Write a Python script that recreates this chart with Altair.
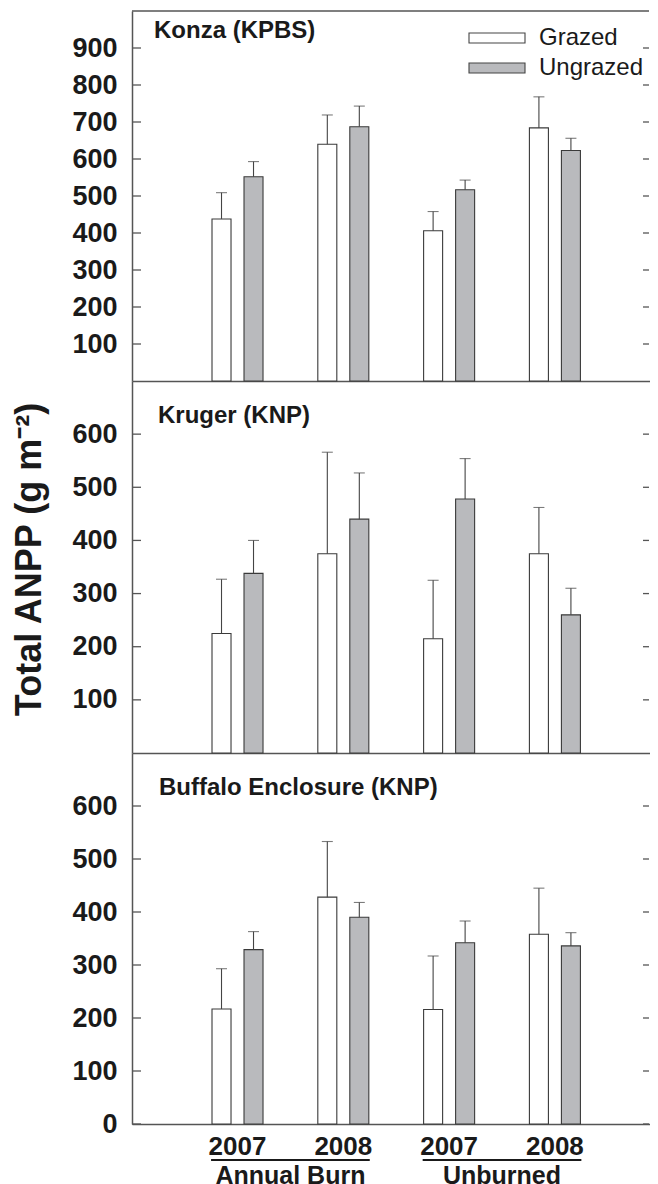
import altair as alt
import pandas as pd

FONT = "Liberation Sans"
INK = "#1a1a1a"
AXC = "#555555"

# ---------------- data ----------------
sites = ["Konza (KPBS)", "Kruger (KNP)", "Buffalo Enclosure (KNP)"]
conditions = ["Annual Burn 2007", "Annual Burn 2008", "Unburned 2007", "Unburned 2008"]
groups = ["Grazed", "Ungrazed"]
treatments = ["Annual Burn", "Unburned"]
treat_first = ["Annual Burn 2007", "Unburned 2007"]
treat_last = ["Annual Burn 2008", "Unburned 2008"]

konza_grazed = [438, 640, 406, 684]
konza_grazed_se = [71, 79, 52, 84]
konza_ungrazed = [552, 687, 517, 623]
konza_ungrazed_se = [41, 56, 26, 33]

kruger_grazed = [225, 375, 215, 375]
kruger_grazed_se = [102, 191, 110, 87]
kruger_ungrazed = [338, 440, 478, 260]
kruger_ungrazed_se = [62, 87, 76, 50]

buffalo_grazed = [217, 428, 216, 358]
buffalo_grazed_se = [76, 105, 101, 87]
buffalo_ungrazed = [329, 390, 342, 336]
buffalo_ungrazed_se = [34, 28, 41, 25]

konza_ticks = [100, 200, 300, 400, 500, 600, 700, 800, 900]
kruger_ticks = [100, 200, 300, 400, 500, 600]
buffalo_ticks = [0, 100, 200, 300, 400, 500, 600]
y_max = [1000, 700, 700]
y_title = "Total ANPP (g m⁻²)"

# ---------------- layout / style ----------------
W = 518
heights = [370, 372, 371]
label_pos = [(22, 27), (26, 42), (27, 42)]
legend_top = 22

x_scale = alt.Scale(domain=conditions, paddingInner=0, paddingOuter=0.448, align=0.555)
xo_scale = alt.Scale(domain=groups, paddingInner=0.406, paddingOuter=0.856)
fill_scale = alt.Scale(domain=groups, range=["#ffffff", "#b9babd"])


def make_df(g, gse, u, use):
    rows = []
    for i, c in enumerate(conditions):
        rows.append({"Cond": c, "Group": "Grazed", "Value": g[i], "Upper": g[i] + gse[i]})
        rows.append({"Cond": c, "Group": "Ungrazed", "Value": u[i], "Upper": u[i] + use[i]})
    return pd.DataFrame(rows)


frames = [
    make_df(konza_grazed, konza_grazed_se, konza_ungrazed, konza_ungrazed_se),
    make_df(kruger_grazed, kruger_grazed_se, kruger_ungrazed, kruger_ungrazed_se),
    make_df(buffalo_grazed, buffalo_grazed_se, buffalo_ungrazed, buffalo_ungrazed_se),
]
tick_sets = [konza_ticks, kruger_ticks, buffalo_ticks]


def panel(i):
    df = frames[i]
    H = heights[i]
    yscale = alt.Scale(domain=[0, y_max[i]], nice=False, zero=True)
    bottom = i == 2
    if bottom:
        xaxis = alt.Axis(title=None, labelExpr="slice(datum.value, -4)", labelAngle=0,
                         labelFontSize=26, labelFontWeight="bold", labelPadding=9,
                         ticks=False, tickSize=0, labelColor=INK)
    else:
        xaxis = alt.Axis(title=None, labels=False, ticks=False, tickSize=0)
    yaxis_kw = dict(values=tick_sets[i], ticks=False, tickSize=0, labelPadding=15,
                    labelFontSize=27, labelFontWeight="bold", grid=False,
                    labelFlush=False, labelOverlap=False, labelColor=INK)
    ttl = y_title if i == 1 else None
    if i == 1:
        yaxis = alt.Axis(title=y_title, titleFontSize=36, titleFontWeight="bold",
                         titleX=-84, titleY=178, titleAngle=270, titleAlign="center",
                         titleBaseline="bottom", titleColor=INK, **yaxis_kw)
    else:
        yaxis = alt.Axis(title=None, **yaxis_kw)

    def Y(field):
        return alt.Y(field, scale=yscale, axis=yaxis, title=ttl)

    def Xf(field, **kw):
        return alt.X(field, scale=x_scale, axis=xaxis, title=None, **kw)

    X = Xf("Cond:N")
    XO = alt.XOffset("Group:N", scale=xo_scale)
    F = alt.Fill("Group:N", scale=fill_scale, legend=None)

    base = alt.Chart(df)
    bars = base.mark_bar(stroke="#3a3a3a", strokeWidth=1.1).encode(
        x=X, xOffset=XO, y=Y("Value:Q"), fill=F)
    err = base.mark_rule(color="#444444", strokeWidth=1.1).encode(
        x=X, xOffset=XO, y=Y("Value:Q"), y2="Upper:Q")
    cap = base.mark_tick(color="#444444", size=11, thickness=1.1, orient="horizontal").encode(
        x=X, xOffset=XO, y=Y("Upper:Q"))

    tdf = pd.DataFrame({"tick": tick_sets[i]})
    lticks = alt.Chart(tdf).mark_rule(color=AXC, strokeWidth=1.3).encode(
        y=Y("tick:Q"), x=alt.value(0), x2=alt.value(9))
    rticks = alt.Chart(tdf).mark_rule(color=AXC, strokeWidth=1.3).encode(
        y=Y("tick:Q"), x=alt.value(W - 7), x2=alt.value(W - 1))

    lx, ly = label_pos[i]
    site_lbl = alt.Chart(pd.DataFrame({"Site": [sites[i]]})).mark_text(
        align="left", baseline="alphabetic", fontSize=24, fontWeight="bold",
        font=FONT, color=INK).encode(text="Site:N", x=alt.value(lx), y=alt.value(ly))

    layers = [bars, err, cap, lticks, rticks, site_lbl]

    if i == 0:
        top_line = alt.Chart(pd.DataFrame({"k": [0]})).mark_rule(color=AXC, strokeWidth=1.5).encode(
            x=alt.value(0), x2=alt.value(W - 1), y=alt.value(0))
        layers.append(top_line)
        gdf = pd.DataFrame({"Group": groups})
        for j, g in enumerate(groups):
            yy = legend_top + 30 * j
            box = alt.Chart(gdf).transform_filter(alt.datum.Group == g).mark_rect(
                stroke="#444444", strokeWidth=1.1).encode(
                x=alt.value(337), x2=alt.value(393), y=alt.value(yy), y2=alt.value(yy + 10), fill=F)
            txt = alt.Chart(gdf).transform_filter(alt.datum.Group == g).mark_text(
                align="left", baseline="middle", fontSize=24, font=FONT, color=INK).encode(
                text="Group:N", x=alt.value(407), y=alt.value(yy + 5))
            layers += [box, txt]

    if bottom:
        trdf = pd.DataFrame({"Treatment": treatments, "Start": treat_first, "End": treat_last})
        uline = alt.Chart(trdf).mark_rule(color=INK, strokeWidth=2).encode(
            x=Xf("Start:N", bandPosition=0.25),
            x2=alt.X2("End:N", bandPosition=0.75),
            y=alt.value(H + 36))
        tlabel = alt.Chart(trdf).mark_text(
            align="center", baseline="alphabetic", fontSize=25, fontWeight="bold",
            font=FONT, color=INK).encode(
            x=Xf("Start:N", bandPosition=1),
            text="Treatment:N", y=alt.value(H + 60))
        layers += [uline, tlabel]

    return alt.layer(*layers).properties(width=W, height=H)


chart = alt.vconcat(panel(0), panel(1), panel(2), spacing=0, bounds="flush").resolve_scale(
    y="independent"
).properties(
    padding={"left": 3, "top": 2, "right": 0, "bottom": 0}
).configure_view(stroke=None).configure_axis(
    domainColor=AXC, domainWidth=1.5, grid=False, labelFont=FONT, titleFont=FONT
)

chart.save("out.html", embed_options={"renderer": "svg", "actions": False})
